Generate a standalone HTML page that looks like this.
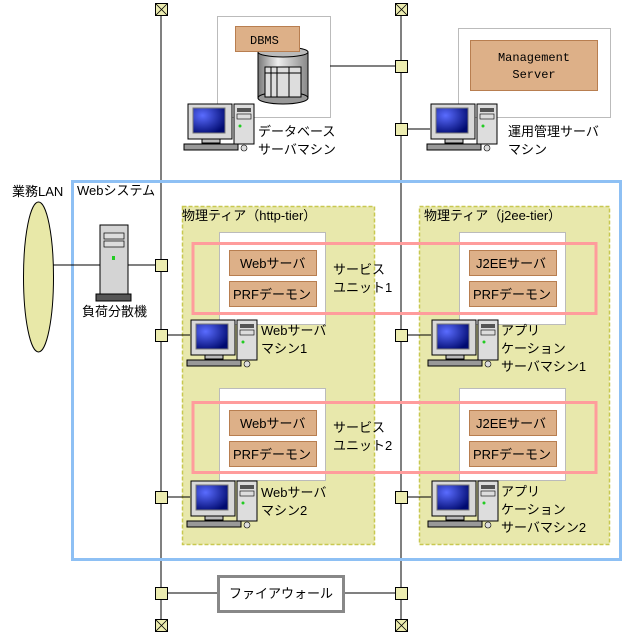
<!DOCTYPE html>
<html><head><meta charset="utf-8"><style>
body{margin:0;background:#fff}
svg{display:block}
text{font-family:"Liberation Sans","Noto Sans CJK JP",sans-serif;font-size:13px;fill:#000}
.m{font-family:"Liberation Mono","Noto Sans CJK JP",monospace;font-size:12px}
.lab{fill:#ddb088;stroke:#b87e50;stroke-width:1}
.sq{fill:#ececb0;stroke:#000;stroke-width:1}
</style></head><body>
<svg width="627" height="635" viewBox="0 0 627 635" xmlns="http://www.w3.org/2000/svg">
<defs>
<radialGradient id="scr" cx="0.3" cy="0.3" r="0.8"><stop offset="0" stop-color="#5a6cff"/><stop offset="1" stop-color="#000a70"/></radialGradient>
<linearGradient id="cyl" x1="0" x2="1"><stop offset="0" stop-color="#777"/><stop offset="0.4" stop-color="#eee"/><stop offset="1" stop-color="#888"/></linearGradient>
<g id="pc">
<rect x="0" y="0" width="44" height="35" fill="#d8d8d8" stroke="#000"/>
<rect x="5" y="4" width="32" height="25" fill="url(#scr)" stroke="#777"/>
<rect x="14" y="35" width="18" height="4" fill="#bbb" stroke="#000"/>
<rect x="46" y="0" width="20" height="40" fill="#ddd" stroke="#000"/>
<rect x="49" y="4" width="14" height="4" fill="#555"/>
<rect x="49" y="10" width="14" height="5" fill="#ddd" stroke="#000" stroke-width="0.6"/>
<circle cx="52" cy="22" r="1.5" fill="#2c2"/>
<rect x="-4" y="40" width="54" height="6" fill="#999" stroke="#000"/>
<circle cx="56" cy="44" r="3" fill="#ddd" stroke="#000" stroke-width="0.6"/>
</g>
</defs>
<!-- vertical lines -->
<line x1="161" y1="16" x2="161" y2="620" stroke="#000"/>
<line x1="401" y1="16" x2="401" y2="620" stroke="#000"/>
<g class="sq">
<rect x="155.5" y="3.5" width="12" height="12"/><rect x="395.5" y="3.5" width="12" height="12"/>
<rect x="155.5" y="619.5" width="12" height="12"/><rect x="395.5" y="619.5" width="12" height="12"/>
</g>
<g stroke="#000" stroke-width="0.8">
<path d="M155.5 3.5L167.5 15.5M167.5 3.5L155.5 15.5M395.5 3.5L407.5 15.5M407.5 3.5L395.5 15.5M155.5 619.5L167.5 631.5M167.5 619.5L155.5 631.5M395.5 619.5L407.5 631.5M407.5 619.5L395.5 631.5"/>
</g>
<!-- DB -->
<rect x="217.5" y="16.5" width="113" height="101" fill="#fff" stroke="#bbb"/>
<line x1="330" y1="66" x2="395" y2="66" stroke="#000"/>
<rect x="258" y="52" width="50" height="46" fill="url(#cyl)" stroke="#000"/>
<ellipse cx="283" cy="98" rx="25" ry="6" fill="#999" stroke="#000"/>
<ellipse cx="283" cy="52" rx="25" ry="5" fill="#bbb" stroke="#000"/>
<rect x="265" y="67" width="36" height="30" fill="#ddd" stroke="#000"/>
<path d="M265 73H301M271 67V97M277 67V97M289 67V97" stroke="#000" fill="none"/>
<rect class="lab" x="235.5" y="26.5" width="64" height="25"/>
<text class="m" x="250" y="44">DBMS</text>
<use href="#pc" x="188" y="104"/>
<text x="258" y="136">データベース</text>
<text x="258" y="154">サーバマシン</text>
<!-- mgmt -->
<rect x="458.5" y="28.5" width="152" height="89" fill="#fff" stroke="#bbb"/>
<rect class="lab" x="470.5" y="40.5" width="127" height="50"/>
<text class="m" x="534" y="61" text-anchor="middle">Management</text>
<text class="m" x="534" y="78" text-anchor="middle">Server</text>
<line x1="401" y1="129" x2="430" y2="129" stroke="#000"/>
<use href="#pc" x="431" y="104"/>
<text x="508" y="136">運用管理サーバ</text>
<text x="508" y="154">マシン</text>
<!-- web system -->
<rect x="72.5" y="181.5" width="548" height="378" fill="none" stroke="#8ec0f4" stroke-width="3"/>
<text x="77" y="195">Webシステム</text>
<text x="12" y="196">業務LAN</text>
<line x1="52" y1="265" x2="161" y2="265" stroke="#000"/>
<ellipse cx="38.5" cy="277" rx="15" ry="75" fill="#e8e8a8" stroke="#000"/>
<rect x="100" y="225" width="28" height="70" fill="#d4d4d4" stroke="#000"/>
<rect x="104" y="233" width="20" height="6" fill="#ddd" stroke="#000" stroke-width="0.7"/>
<rect x="104" y="241" width="20" height="6" fill="#ddd" stroke="#000" stroke-width="0.7"/>
<rect x="112" y="256" width="3" height="4" fill="#2c2"/>
<rect x="96" y="294" width="35" height="7" fill="#555" stroke="#000"/>
<text x="82" y="316">負荷分散機</text>
<!-- tiers -->
<rect x="182.5" y="206.5" width="192" height="338" fill="#e8e8ac" stroke="#c8c850" stroke-dasharray="4,2" stroke-width="1.5"/>
<rect x="419.5" y="206.5" width="190" height="338" fill="#e8e8ac" stroke="#c8c850" stroke-dasharray="4,2" stroke-width="1.5"/>
<text x="182" y="220">物理ティア（http-tier）</text>
<text x="424" y="220">物理ティア（j2ee-tier）</text>
<g fill="#fff" stroke="#bbb">
<rect x="219.5" y="232.5" width="106" height="92"/><rect x="459.5" y="232.5" width="106" height="92"/>
<rect x="219.5" y="388.5" width="106" height="92"/><rect x="459.5" y="388.5" width="106" height="92"/>
</g>
<g class="lab">
<rect x="229.5" y="250.5" width="87" height="25"/><rect x="229.5" y="281.5" width="87" height="25"/>
<rect x="469.5" y="250.5" width="87" height="25"/><rect x="469.5" y="281.5" width="87" height="25"/>
<rect x="229.5" y="410.5" width="87" height="25"/><rect x="229.5" y="441.5" width="87" height="25"/>
<rect x="469.5" y="410.5" width="87" height="25"/><rect x="469.5" y="441.5" width="87" height="25"/>
</g>
<g class="m">
<text x="240" y="268">Webサーバ</text><text x="233" y="299">PRFデーモン</text>
<text x="476" y="268">J2EEサーバ</text><text x="473" y="299">PRFデーモン</text>
<text x="240" y="428">Webサーバ</text><text x="233" y="459">PRFデーモン</text>
<text x="476" y="428">J2EEサーバ</text><text x="473" y="459">PRFデーモン</text>
</g>
<rect x="193" y="243.5" width="403" height="70" fill="none" stroke="#ff9c9c" stroke-width="3"/>
<rect x="193" y="402.5" width="403" height="70" fill="none" stroke="#ff9c9c" stroke-width="3"/>
<text x="333" y="274">サービス</text><text x="333" y="292">ユニット1</text>
<text x="333" y="432">サービス</text><text x="333" y="450">ユニット2</text>
<!-- machines -->
<line x1="161" y1="335" x2="190" y2="335" stroke="#000"/>
<line x1="161" y1="497" x2="190" y2="497" stroke="#000"/>
<line x1="401" y1="335" x2="431" y2="335" stroke="#000"/>
<line x1="401" y1="497" x2="431" y2="497" stroke="#000"/>
<use href="#pc" x="191" y="320"/><use href="#pc" x="191" y="481"/>
<use href="#pc" x="432" y="320"/><use href="#pc" x="432" y="481"/>
<text x="261" y="335">Webサーバ</text><text x="261" y="353">マシン1</text>
<text x="261" y="497">Webサーバ</text><text x="261" y="515">マシン2</text>
<text x="501" y="335">アプリ</text><text x="501" y="353">ケーション</text><text x="501" y="371">サーバマシン1</text>
<text x="501" y="496">アプリ</text><text x="501" y="514">ケーション</text><text x="501" y="532">サーバマシン2</text>
<!-- firewall -->
<line x1="161" y1="593" x2="401" y2="593" stroke="#000"/>
<rect x="218.5" y="576.5" width="125" height="35" fill="#fff" stroke="#888" stroke-width="3"/>
<text x="281" y="598" text-anchor="middle">ファイアウォール</text>
<g class="sq">
<rect x="395.5" y="60.5" width="12" height="12"/><rect x="395.5" y="123.5" width="12" height="12"/>
<rect x="155.5" y="259.5" width="12" height="12"/><rect x="155.5" y="329.5" width="12" height="12"/>
<rect x="155.5" y="491.5" width="12" height="12"/><rect x="155.5" y="587.5" width="12" height="12"/>
<rect x="395.5" y="329.5" width="12" height="12"/><rect x="395.5" y="491.5" width="12" height="12"/>
<rect x="395.5" y="587.5" width="12" height="12"/>
</g>
</svg>
</body></html>
